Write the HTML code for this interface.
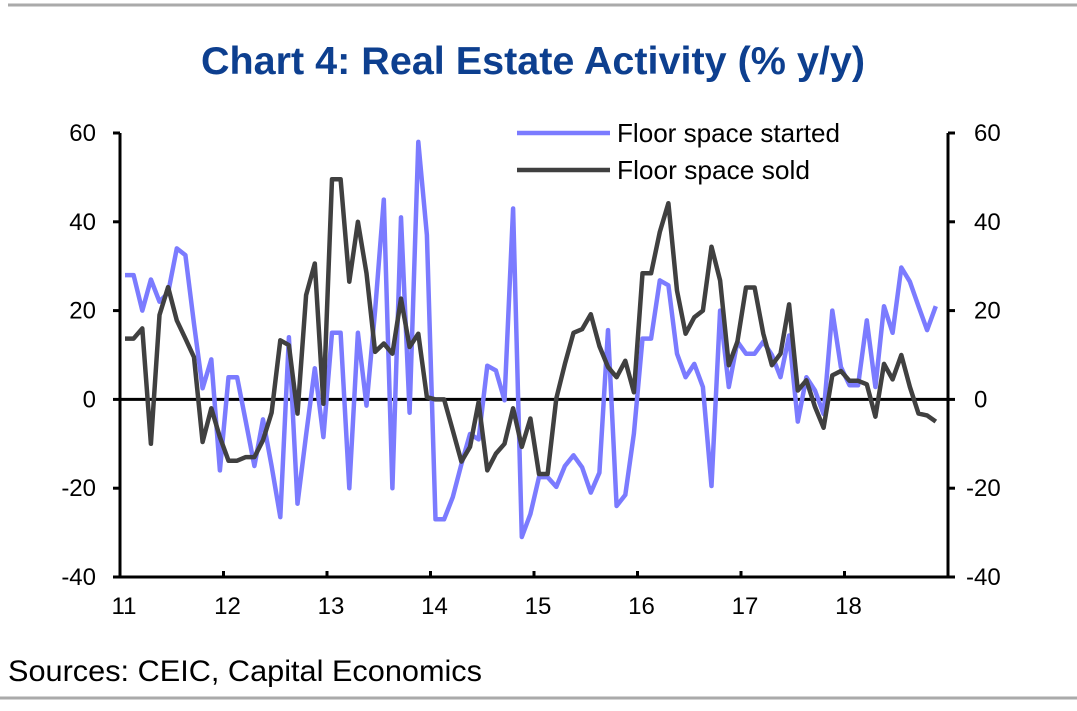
<!DOCTYPE html>
<html><head><meta charset="utf-8"><style>
body{margin:0;background:#fff;}
svg{display:block;font-family:"Liberation Sans",sans-serif;}
</style></head><body>
<svg id="chart" width="1077" height="711" viewBox="0 0 1077 711">
<line x1="8" y1="5" x2="1077" y2="5" stroke="#aaa" stroke-width="3"/>
<line x1="0" y1="698" x2="1077" y2="698" stroke="#aaa" stroke-width="3"/>
<text x="533" y="74" text-anchor="middle" font-size="39" font-weight="bold" fill="#0d3f8f" textLength="664" lengthAdjust="spacingAndGlyphs">Chart 4: Real Estate Activity (% y/y)</text>
<text x="8" y="681" font-size="30" fill="#000" textLength="474" lengthAdjust="spacingAndGlyphs">Sources: CEIC, Capital Economics</text>
<g id="axes"></g>
<g id="series"></g>
<g>
<line x1="517" y1="133" x2="610" y2="133" stroke="#7b7bff" stroke-width="4.5"/>
<text x="617" y="142" font-size="26" textLength="223" lengthAdjust="spacingAndGlyphs">Floor space started</text>
<line x1="517" y1="170" x2="610" y2="170" stroke="#404040" stroke-width="4.5"/>
<text x="617" y="179" font-size="26" textLength="193" lengthAdjust="spacingAndGlyphs">Floor space sold</text>
</g>
</svg>
<script>
const yTicks = [60, 40, 20, 0, -20, -40];
const yearLabels = ["11","12","13","14","15","16","17","18"];
const started = [28,28,20,27,22,24,34,32.5,17,2.5,9,-16,5,5,-5,-15,-4.5,-15,-26.5,14,-23.5,-8,7,-8.5,15,15,-20,15,-1.4,20,45,-20,41,-3,58,37,
-27,-27,-22,-14.6,-7.8,-9,7.6,6.5,-0.2,43,-31,-25.8,-17.5,-17.5,-19.7,-15,-12.6,-15.3,-21,-16.5,15.6,-24,-21.5,-7.7,13.7,13.7,26.8,25.7,10.3,5,
8,2.8,-19.5,20,2.8,13,10.3,10.3,13,10,5,14.4,-5,5,2,-3.3,20,7.3,3.2,3.2,17.8,2.8,21,15,29.7,26.5,21,15.6,21];
const sold = [13.7,13.7,16,-10,19,25.3,17.8,13.7,9.5,-9.6,-2,-8.5,-13.8,-13.8,-13,-13,-9.2,-3,13.3,12.2,-3.2,23.5,30.6,-1,49.6,49.6,26.5,40,28.4,10.7,12.6,10.3,22.7,11.8,14.8,0.5,
0,0,-7,-14,-10.7,-0.6,-16,-12.2,-10,-2,-10.7,-4.3,-16.8,-16.8,0.2,8,15,15.8,19.2,12,7.3,5,8.7,1.6,28.4,28.4,37.7,44.2,24.5,14.8,
18.5,20,34.4,26.8,7.7,13,25.2,25.2,14.8,7.7,10.3,21.4,2,4.3,-1.7,-6.4,5.4,6.4,4.2,4.2,3.4,-3.9,8,4.5,10,2.8,-3.2,-3.6,-5];

const L=120,R=948,T=133,B=577,YMAX=60,YMIN=-40;
const yScale=v=>T+(YMAX-v)*(B-T)/(YMAX-YMIN);
const yearX=i=>L+i*(R-L)/8;
const monthX=m=>yearX(0)+5+m*(R-L)/96;
const NS="http://www.w3.org/2000/svg";
function mk(tag,attrs,parent){const e=document.createElementNS(NS,tag);for(const k in attrs)e.setAttribute(k,attrs[k]);parent.appendChild(e);return e;}
const ax=document.getElementById('axes');
let e;
e=mk('line',{x1:L,y1:T,x2:L,y2:B,stroke:'#000','stroke-width':3},ax);


e=mk('line',{x1:R,y1:T,x2:R,y2:B,stroke:'#000','stroke-width':3},ax);


e=mk('line',{x1:L,y1:B,x2:R,y2:B,stroke:'#000','stroke-width':3},ax);


yTicks.forEach(v=>{
  const y=yScale(v);
  e=mk('line',{x1:L-7,y1:y,x2:L,y2:y,stroke:'#000','stroke-width':3},ax);
  
  
  e=mk('line',{x1:R,y1:y,x2:R+7,y2:y,stroke:'#000','stroke-width':3},ax);
  
  
  e=mk('text',{x:96,y:y+8,'text-anchor':'end','font-size':24},ax);
  e.textContent=v;
  
  
  e=mk('text',{x:v<0?966:974,y:y+8,'text-anchor':'start','font-size':24},ax);
  e.textContent=v;
  
  
});
e=mk('line',{x1:L,y1:yScale(0),x2:R,y2:yScale(0),stroke:'#000','stroke-width':3},ax);


yearLabels.forEach((lab,i)=>{
  const x=yearX(i);
  e=mk('line',{x1:x,y1:B-6,x2:x,y2:B,stroke:'#000','stroke-width':3},ax);
  
  
  e=mk('text',{x:x+4,y:614,'text-anchor':'middle','font-size':24},ax);
  e.textContent=lab;
  
  
});
e=mk('line',{x1:R,y1:B-6,x2:R,y2:B,stroke:'#000','stroke-width':3},ax);


const sg=document.getElementById('series');
function pts(arr){return arr.map((v,i)=>monthX(i).toFixed(1)+','+yScale(v).toFixed(1)).join(' ');}
e=mk('polyline',{points:pts(started),fill:'none',stroke:'#7b7bff','stroke-width':4.5,'stroke-linejoin':'round'},sg);


e=mk('polyline',{points:pts(sold),fill:'none',stroke:'#404040','stroke-width':4.5,'stroke-linejoin':'round'},sg);


</script>
</body></html>
